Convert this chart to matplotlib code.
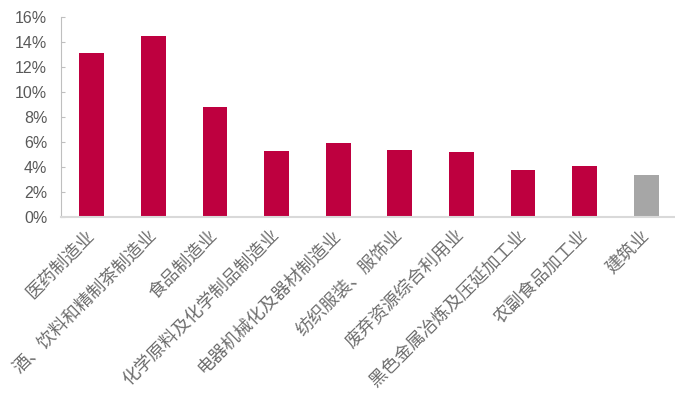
import numpy as np
import matplotlib.pyplot as plt
from matplotlib.ticker import PercentFormatter

plt.rcParams['font.family'] = ['Noto Sans CJK SC', 'DejaVu Sans']

industries = ['医药制造业', '酒、饮料和精制茶制造业', '食品制造业',
              '化学原料及化学制品制造业', '电器机械化及器材制造业', '纺织服装、服饰业',
              '废弃资源综合利用业', '黑色金属冶炼及压延加工业', '农副食品加工业', '建筑业']
growth = [13.1, 14.5, 8.8, 5.3, 5.9, 5.4, 5.2, 3.8, 4.05, 3.35]
bar_colors = ['#BE003F'] * 9 + ['#A6A6A6']

fig = plt.figure(figsize=(6.75, 3.94), dpi=100)
ax = fig.add_axes([0.0904, 0.449, 0.9126, 0.508])

x = np.arange(len(industries))
ax.bar(x, growth, width=0.405, color=bar_colors)

ax.set_xlim(-0.5, len(industries) - 0.5)
ax.set_ylim(0, 16)
ax.set_yticks(np.arange(0, 17, 2))
ax.yaxis.set_major_formatter(PercentFormatter(decimals=0))

ax.set_xticks(x)
ax.set_xticklabels(industries, rotation=45, ha='right', va='center',
                   rotation_mode='anchor', fontsize=12.8, fontweight='light',
                   color='#6e6e6e')
ax.tick_params(axis='x', length=0, pad=11)
ax.tick_params(axis='y', direction='in', length=3, width=0.8, color='#bfbfbf',
               labelsize=11.5, labelcolor='#595959', pad=10)
for lbl in ax.get_yticklabels():
    lbl.set_fontfamily('Liberation Sans')

for side in ['top', 'right']:
    ax.spines[side].set_visible(False)
ax.spines['left'].set_color('#bfbfbf')
ax.spines['left'].set_linewidth(0.8)
ax.spines['bottom'].set_color('#d9d9d9')
ax.spines['bottom'].set_linewidth(1.5)

fig.savefig('out.png', dpi=100)
